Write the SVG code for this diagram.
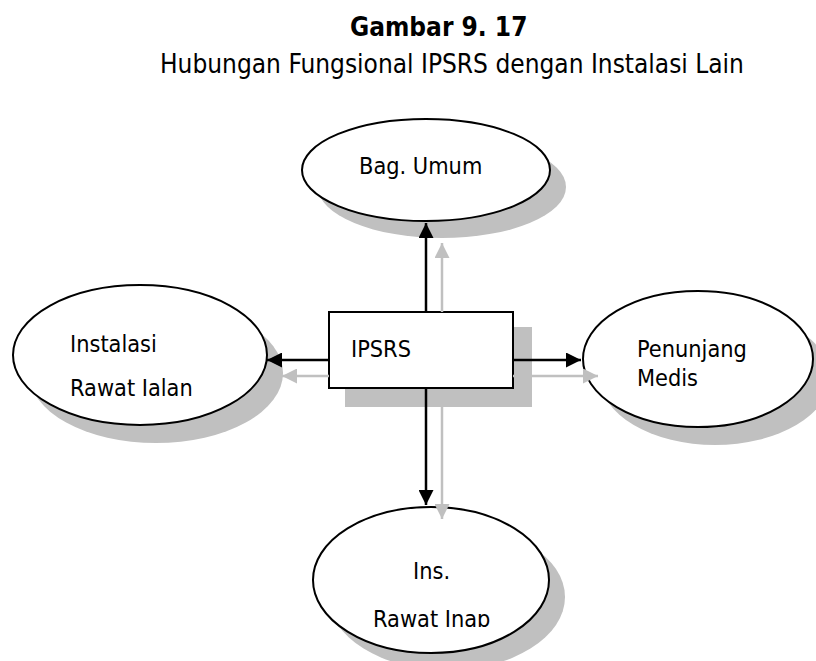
<svg xmlns="http://www.w3.org/2000/svg" width="816" height="661" viewBox="0 0 816 661">
  <style>
    text { font-family: "DejaVu Sans Condensed", "DejaVu Sans", Verdana, sans-serif; font-stretch: condensed; font-size: 23.3px; fill: #000; }
    .title { font-weight: bold; font-size: 26px; }
    .sub { font-size: 26px; }
    .node { fill: #fff; stroke: #000; stroke-width: 2; }
    .shadow { fill: #c0c0c0; stroke: none; }
    .main { stroke: #000; stroke-width: 2.5; fill: none; }
    .echo { stroke: #c0c0c0; stroke-width: 2.5; fill: none; }
  </style>
  <defs>
    <marker id="headBlack" viewBox="0 0 10 10" refX="10" refY="5" markerWidth="6" markerHeight="6" markerUnits="strokeWidth" orient="auto">
      <path d="M0,0 L10,5 L0,10 Z" fill="#000"/>
    </marker>
    <marker id="headGrey" viewBox="0 0 10 10" refX="10" refY="5" markerWidth="6" markerHeight="6" markerUnits="strokeWidth" orient="auto">
      <path d="M0,0 L10,5 L0,10 Z" fill="#c0c0c0"/>
    </marker>
    <clipPath id="clipJalan"><rect x="0" y="280" width="300" height="116"/></clipPath>
    <clipPath id="clipInap"><rect x="300" y="500" width="280" height="127"/></clipPath>
  </defs>

  <rect width="816" height="661" fill="#fff"/>

  <!-- heading -->
  <g id="heading">
    <text class="title" x="350" y="36">Gambar 9. 17</text>
    <text class="sub" x="160" y="73">Hubungan Fungsional IPSRS dengan Instalasi Lain</text>
  </g>

  <!-- shadows sit behind every node -->
  <g id="shadows">
    <ellipse class="shadow" cx="442" cy="187" rx="124" ry="51"/>
    <ellipse class="shadow" cx="156" cy="373" rx="127" ry="70"/>
    <ellipse class="shadow" cx="715" cy="377" rx="115" ry="68"/>
    <ellipse class="shadow" cx="447" cy="597" rx="118" ry="73"/>
    <rect class="shadow" x="345" y="327" width="187" height="80"/>
  </g>

  <g id="bag-umum">
    <ellipse class="node" cx="426" cy="170" rx="124" ry="51"/>
    <text x="359" y="174">Bag. Umum</text>
  </g>

  <g id="rawat-jalan">
    <ellipse class="node" cx="140" cy="355" rx="127" ry="70"/>
    <g clip-path="url(#clipJalan)">
      <text x="70" y="352">Instalasi</text>
      <text x="70" y="396">Rawat Jalan</text>
    </g>
  </g>

  <g id="penunjang-medis">
    <ellipse class="node" cx="698" cy="359" rx="115" ry="68"/>
    <text x="637" y="357">Penunjang</text>
    <text x="637" y="386">Medis</text>
  </g>

  <g id="rawat-inap">
    <ellipse class="node" cx="431" cy="580" rx="118" ry="73"/>
    <g clip-path="url(#clipInap)">
      <text x="413" y="579">Ins.</text>
      <text x="373" y="627">Rawat Inap</text>
    </g>
  </g>

  <g id="ipsrs">
    <rect class="node" x="329" y="312" width="184" height="76"/>
    <text x="351" y="357">IPSRS</text>
  </g>

  <!-- connectors, drawn over the nodes so the grey heads overlap the outlines -->
  <g id="connectors">
    <line class="echo" x1="442" y1="312" x2="442" y2="243" marker-end="url(#headGrey)"/>
    <line class="main" x1="426" y1="312" x2="426" y2="223" marker-end="url(#headBlack)"/>
    <line class="echo" x1="442" y1="407" x2="442" y2="519" marker-end="url(#headGrey)"/>
    <line class="main" x1="426" y1="388" x2="426" y2="505" marker-end="url(#headBlack)"/>
    <line class="echo" x1="329" y1="376" x2="282" y2="376" marker-end="url(#headGrey)"/>
    <line class="main" x1="329" y1="360" x2="267" y2="360" marker-end="url(#headBlack)"/>
    <line class="echo" x1="513" y1="376" x2="598" y2="376" marker-end="url(#headGrey)"/>
    <line class="main" x1="513" y1="360" x2="581" y2="360" marker-end="url(#headBlack)"/>
  </g>
</svg>
